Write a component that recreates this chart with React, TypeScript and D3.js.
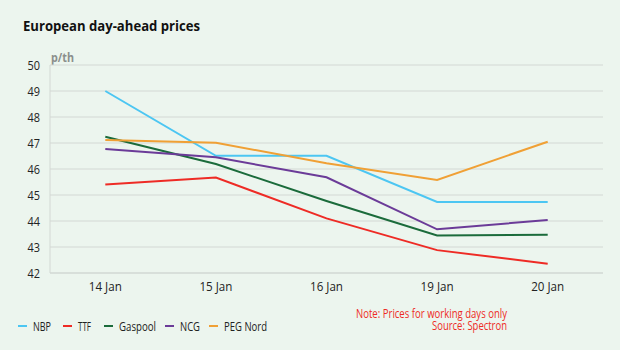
import React from 'react';
import * as d3 from 'd3';

const days = ['14 Jan', '15 Jan', '16 Jan', '19 Jan', '20 Jan'];
const yTicks = [42, 43, 44, 45, 46, 47, 48, 49, 50];

const nbp = [49.0, 46.51, 46.51, 44.73, 44.73];
const ttf = [45.4, 45.67, 44.1, 42.88, 42.36];
const gaspool = [47.24, 46.19, 44.77, 43.44, 43.47];
const ncg = [46.77, 46.45, 45.68, 43.68, 44.04];
const pegNord = [47.12, 47.01, 46.22, 45.58, 47.05];

const seriesNames = ['NBP', 'TTF', 'Gaspool', 'NCG', 'PEG Nord'];
const seriesColors = ['#4cc6f2', '#ee2b25', '#1b6b3b', '#6b3b98', '#f0a035'];
const legendWidths = [18, 13, 37, 20, 43];

const App = () => {
  const width = 620;
  const height = 350;
  const margin = { top: 65, right: 17, bottom: 77, left: 50 };
  const font = '"Open Sans", "Noto Sans", sans-serif';

  const series = [nbp, ttf, gaspool, ncg, pegNord].map((values, i) => ({
    name: seriesNames[i],
    color: seriesColors[i],
    values,
  }));

  const x = d3.scalePoint()
    .domain(days)
    .range([margin.left, width - margin.right])
    .padding(0.5);

  const y = d3.scaleLinear()
    .domain([42, 50])
    .range([height - margin.bottom, margin.top]);

  const line = d3.line<number>()
    .x((_, i) => x(days[i]) as number)
    .y(d => y(d));

  // legend slots
  const legendX = [18, 63, 104, 165, 209];

  return (
    <svg width={width} height={height}
      style={{ position: 'absolute', left: 0, top: 0, display: 'block', background: '#ecf5ee' }}>
      <rect x={0} y={0} width={width} height={height} fill="#ecf5ee" />
      <text x={23} y={31} fontFamily={font} fontSize={13.5} fontWeight={700} fill="#111"
        textLength={177} lengthAdjust="spacingAndGlyphs">
        European day-ahead prices
      </text>
      <text x={51} y={62} fontFamily={font} fontSize={12} fontWeight={700} fill="#8a8f8c"
        textLength={23} lengthAdjust="spacingAndGlyphs">p/th</text>

      {yTicks.map(t => (
        <g key={t}>
          <line x1={margin.left} x2={width - margin.right} y1={y(t)} y2={y(t)}
            stroke={t === 42 ? '#c4c9c6' : '#d3d8d4'} strokeWidth={1} />
          <text x={40} y={y(t)} dy="0.36em" textAnchor="end" fontFamily={font} fontSize={13.5} fill="#222"
            textLength={12.5} lengthAdjust="spacingAndGlyphs">{t}</text>
        </g>
      ))}
      <line x1={margin.left} x2={margin.left} y1={y(50)} y2={y(42)} stroke="#d3d8d4" strokeWidth={1} />

      {days.map(d => (
        <text key={d} x={x(d)} y={291} textAnchor="middle" fontFamily={font} fontSize={13} fill="#222"
          textLength={33} lengthAdjust="spacingAndGlyphs">{d}</text>
      ))}

      {series.map(s => (
        <path key={s.name} d={line(s.values) || ''} fill="none" stroke={s.color} strokeWidth={2} />
      ))}

      {series.map((s, i) => (
        <g key={s.name} transform={`translate(${legendX[i]},326)`}>
          <line x1={0} x2={9} y1={0} y2={0} stroke={s.color} strokeWidth={2} />
          <text x={15} y={0} dy="0.36em" fontFamily={font} fontSize={13} fill="#222"
            textLength={legendWidths[i]} lengthAdjust="spacingAndGlyphs">{s.name}</text>
        </g>
      ))}

      <text x={507} y={318} textAnchor="end" fontFamily={font} fontSize={13} fill="#ee2b25"
        textLength={151} lengthAdjust="spacingAndGlyphs">Note: Prices for working days only</text>
      <text x={507} y={329.5} textAnchor="end" fontFamily={font} fontSize={13} fill="#ee2b25"
        textLength={75} lengthAdjust="spacingAndGlyphs">Source: Spectron</text>
    </svg>
  );
};

export default App;
